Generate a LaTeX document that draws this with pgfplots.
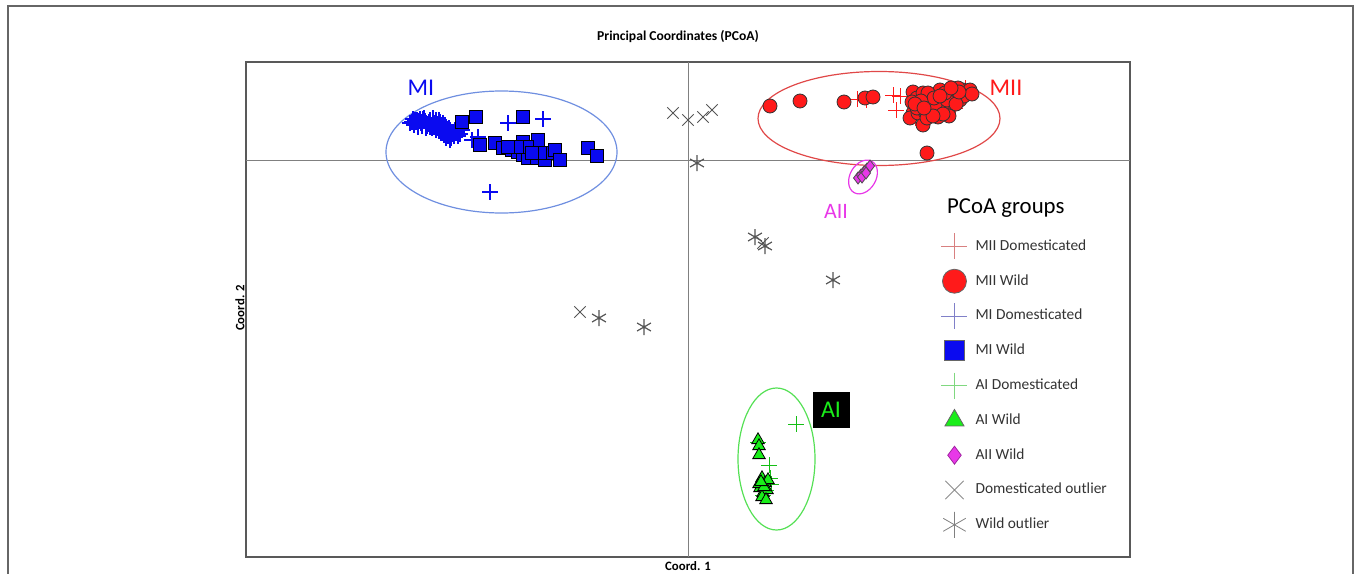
\documentclass[border=0pt]{standalone}
\usepackage{pgfplots}
\pgfplotsset{compat=1.18}
\usepackage{fontspec}
\setmainfont{Carlito}
\definecolor{cred}{HTML}{FF1A1A}
\definecolor{cblue}{HTML}{0A0AF0}
\definecolor{cgreen}{HTML}{1AEE1A}
\definecolor{cmag}{HTML}{E838E8}
\definecolor{cgray}{HTML}{555555}
\definecolor{lred}{HTML}{D88080}
\definecolor{lblue}{HTML}{8080C8}
\definecolor{lgreen}{HTML}{80D880}
\definecolor{elblue}{HTML}{6F8FE0}
\definecolor{elred}{HTML}{E04848}
\definecolor{elgreen}{HTML}{55E055}
\begin{document}
\begin{tikzpicture}
\path[use as bounding box] (0,0) rectangle (680pt,-286.5pt);
\draw[black!60, line width=0.8pt] (4pt,-300pt) -- (4pt,-3pt) -- (676.5pt,-3pt) -- (676.5pt,-300pt);
\node[font=\bfseries\fontsize{6.8pt}{8pt}\selectfont] at (339pt,-18.5pt) {Principal Coordinates (PCoA)};
\node[font=\bfseries\fontsize{6.4pt}{8pt}\selectfont, rotate=90] at (120pt,-154pt) {Coord. 2};
\node[font=\bfseries\fontsize{6.4pt}{8pt}\selectfont] at (344pt,-283pt) {Coord. 1};
\begin{axis}[
  at={(123pt,-31pt)}, anchor=north west,
  scale only axis, width=442pt, height=247.5pt,
  xmin=-442, xmax=442, ymin=-397, ymax=98,
  xtick=\empty, ytick=\empty,
  axis line style={draw=black!65, line width=0.8pt},
  clip=false,
  legend style={at={(axis cs:243,-67)}, anchor=north west, draw=none, fill=none,
    font=\fontsize{7.7pt}{8.5pt}\selectfont, text=black!80, row sep=2.4pt,
    legend cell align=left},
  legend image code/.code={%
    \path[draw=none, fill=none] (0cm,-7.5pt) rectangle (0.6cm,7.5pt);
    \draw[mark repeat=2,mark phase=2,#1] plot coordinates {(0cm,0cm)(0.3cm,0cm)(0.6cm,0cm)};},
]
\draw[black!50, line width=0.5pt] (axis cs:0,-397) -- (axis cs:0,98);
\draw[black!50, line width=0.5pt] (axis cs:-442,0) -- (axis cs:442,0);
% ellipses
\draw[elblue, line width=0.6pt] (axis cs:-186.5,8) ellipse [x radius=115.5, y radius=61];
\draw[elred, line width=0.6pt] (axis cs:191,41.5) ellipse [x radius=121, y radius=47];
\draw[cmag, line width=0.6pt, rotate around={60:(axis cs:175,-17)}] (axis cs:175,-17) ellipse [x radius=18, y radius=13];
\draw[elgreen, line width=0.6pt] (axis cs:88.5,-299) ellipse [x radius=38.5, y radius=71];
% MII Domesticated
\addplot[forget plot, only marks, mark=+, mark size=4pt, cred, mark options={line width=0.5pt}] coordinates {
(169,61)(178,60)(205,65)(212,64)(208,50)(227,42)(235,37)(267,52)(272,65)(252,60)(277,72)};
% MII Wild
\addplot[forget plot, only marks, mark=*, mark size=3.5pt, mark options={fill=cred, draw=black!80, line width=0.4pt}] coordinates {
(82,54)(112,59)(156,58)(177,62)(185,63)(225,68)(229,62)(230,55)(225,47)(222,42)(230,47)(237,48)(235,35)(239,7)(235,67)(242,58)(249,63)(252,70)(255,57)(262,67)(265,57)(260,50)(269,63)(275,70)(279,67)(272,60)(264,62)(244,50)(254,52)(247,55)(259,60)(229,52)(224,58)(239,42)(250,43)(270,72)(257,67)(240,67)
(282,70)(276,64)(268,56)(261,44)(255,46)(246,62)(233,59)(227,56)(284,66)(271,68)(263,72)(252,64)(245,44)(236,52)};
% MI Domesticated
\addplot[forget plot, only marks, mark=+, mark size=4pt, cblue, mark options={line width=0.6pt}] coordinates {
(-276,38)(-273,40)(-270,36)(-268,41)(-266,34)(-263,39)(-260,36)(-258,40)(-256,32)(-253,37)(-250,34)(-248,38)(-246,30)(-243,35)(-241,28)(-239,32)(-236,26)(-233,30)(-230,24)(-242,22)(-247,27)(-252,30)(-262,32)(-270,33)(-274,35)(-238,20)(-232,34)(-255,42)(-264,42)
(-278,37)(-275,41)(-272,38)(-269,39)(-267,37)(-265,41)(-262,37)(-261,34)(-259,38)(-257,35)(-255,39)(-254,33)(-251,36)(-249,31)(-247,35)(-245,33)(-244,29)(-240,30)(-238,27)(-235,28)(-234,24)(-231,28)(-228,26)(-240,24)(-237,22)(-244,25)(-258,33)(-266,38)(-271,40)(-252,40)(-249,40)(-245,37)
(-180,37)(-145,41)(-216,20)(-210,23)(-198,-32)(-226,30)};
% MI Wild
\addplot[forget plot, only marks, mark=square*, mark size=3.2pt, mark options={fill=cblue, draw=black, line width=0.4pt}] coordinates {
(-226,38)(-212,43)(-165,43)(-208,15)(-193,17)(-185,12)(-176,10)(-170,8)(-165,18)(-165,5)(-160,2)(-155,12)(-150,20)(-151,2)(-143,0)(-138,7)(-133,10)(-128,0)(-148,7)(-100,12)(-91,4)(-161,13)(-171,13)(-180,13)(-156,7)};
% AI Domesticated
\addplot[forget plot, only marks, mark=+, mark size=4pt, cgreen!80!black, mark options={line width=0.5pt}] coordinates {
(108,-264)(70,-282)(81,-305)(82,-318)(78,-330)(75,-335)(83,-324)};
% AI Wild
\addplot[forget plot, only marks, mark=triangle*, mark size=3.6pt, mark options={fill=cgreen, draw=black, line width=0.4pt}] coordinates {
(70,-280)(71,-286)(71,-295)(74,-318)(77,-323)(72,-328)(75,-333)(79,-330)(74,-337)(78,-340)(71,-324)(80,-320)(76,-327)(73,-322)};
% AII Wild
\addplot[forget plot, only marks, mark=diamond*, mark size=3pt, mark options={fill=cmag, draw=black!70, line width=0.4pt}] coordinates {
(170,-18)(173,-15)(176,-12)(179,-9)(182,-6)(174,-17)(178,-13)};
% Domesticated outliers
\addplot[forget plot, only marks, mark=x, mark size=4pt, cgray, mark options={line width=0.5pt}] coordinates {
(-15,47)(0,40)(15,43)(24,50)(-108,-152)(75,-83)};
% Wild outliers
\addplot[forget plot, only marks, mark=asterisk, mark size=4pt, cgray, mark options={line width=0.6pt}] coordinates {
(9,-3)(-89,-158)(-44,-167)(67,-77)(77,-86)(145,-120)};
% labels
\node[text=cblue, font=\fontsize{12pt}{14pt}\selectfont] at (axis cs:-267,72) {MI};
\node[text=cred, font=\fontsize{12pt}{14pt}\selectfont] at (axis cs:318,72) {MII};
\node[text=cmag, font=\fontsize{11pt}{13pt}\selectfont] at (axis cs:148,-51) {AII};
\node[fill=black, text=cgreen, font=\fontsize{12pt}{14pt}\selectfont, minimum width=18.5pt, minimum height=18pt, inner sep=0pt] at (axis cs:143,-250) {AI};
\node[anchor=west, font=\fontsize{11.4pt}{13pt}\selectfont] at (axis cs:252,-48) {PCoA groups};
% legend
\addlegendimage{only marks, mark=+, mark size=6.5pt, lred, mark options={line width=0.4pt}}
\addlegendentry{MII Domesticated}
\addlegendimage{only marks, mark=*, mark size=6pt, mark options={fill=cred, draw=black!60, line width=0.4pt}}
\addlegendentry{MII Wild}
\addlegendimage{only marks, mark=+, mark size=6.5pt, lblue, mark options={line width=0.4pt}}
\addlegendentry{MI Domesticated}
\addlegendimage{only marks, mark=square*, mark size=5pt, mark options={fill=cblue, draw=black!60, line width=0.4pt}}
\addlegendentry{MI Wild}
\addlegendimage{only marks, mark=+, mark size=6.5pt, lgreen, mark options={line width=0.4pt}}
\addlegendentry{AI Domesticated}
\addlegendimage{only marks, mark=triangle*, mark size=5.5pt, mark options={fill=cgreen, draw=black!60, line width=0.4pt}}
\addlegendentry{AI Wild}
\addlegendimage{only marks, mark=diamond*, mark size=4.5pt, mark options={fill=cmag, draw=cmag!70!black, line width=0.4pt}}
\addlegendentry{AII Wild}
\addlegendimage{only marks, mark=x, mark size=6.5pt, black!45, mark options={line width=0.4pt}}
\addlegendentry{Domesticated outlier}
\addlegendimage{only marks, mark=asterisk, mark size=6.5pt, black!50, mark options={line width=0.4pt}}
\addlegendentry{Wild outlier}
\end{axis}
\end{tikzpicture}
\end{document}
